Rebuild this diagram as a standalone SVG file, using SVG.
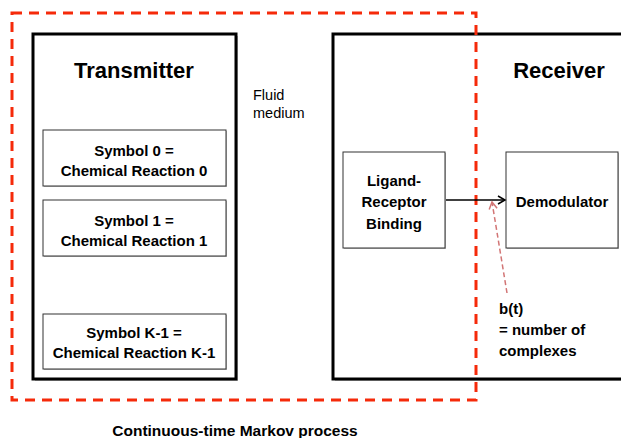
<svg xmlns="http://www.w3.org/2000/svg" width="621" height="438" viewBox="0 0 621 438">
<defs>
<style>
.t{font-family:"Liberation Sans",Arial,sans-serif;fill:#000}
.b{font-weight:bold}
.big{font-size:22px;font-weight:bold}
.lbl{font-size:15px;font-weight:bold}
.outer{fill:#fff;stroke:#000;stroke-width:3}
.inner{fill:#fff;stroke:#333;stroke-width:1}
.shadow{fill:#bbb}
</style>
<marker id="ah" markerWidth="10" markerHeight="10" refX="8" refY="5" orient="auto" markerUnits="userSpaceOnUse">
<path d="M1,1 L8,5 L1,9" fill="none" stroke="#000" stroke-width="1.5"/>
</marker>
<marker id="ahr" markerWidth="10" markerHeight="10" refX="8" refY="5" orient="auto" markerUnits="userSpaceOnUse">
<path d="M1,1 L8,5 L1,9" fill="none" stroke="#d27575" stroke-width="1.5"/>
</marker>
</defs>
<rect width="621" height="438" fill="#fff"/>

<g id="transmitter">
<rect x="35" y="36" width="203" height="345" class="shadow"/>
<rect x="33" y="34" width="203" height="345" class="outer"/>
<text x="134" y="78" text-anchor="middle" class="t big">Transmitter</text>
</g>
<g id="symbol0">
<rect x="44" y="131" width="183" height="56" class="shadow"/>
<rect x="43" y="130" width="183" height="56" class="inner"/>
<text x="134" y="156" text-anchor="middle" class="t lbl">Symbol 0 =</text>
<text x="134" y="176" text-anchor="middle" class="t lbl">Chemical Reaction 0</text>
</g>
<g id="symbol1">
<rect x="44" y="201" width="183" height="56" class="shadow"/>
<rect x="43" y="200" width="183" height="56" class="inner"/>
<text x="134" y="226" text-anchor="middle" class="t lbl">Symbol 1 =</text>
<text x="134" y="246" text-anchor="middle" class="t lbl">Chemical Reaction 1</text>
</g>
<g id="symbolK1">
<rect x="44" y="315" width="183" height="55" class="shadow"/>
<rect x="43" y="314" width="183" height="55" class="inner"/>
<text x="134" y="338" text-anchor="middle" class="t lbl">Symbol K-1 =</text>
<text x="134" y="358" text-anchor="middle" class="t lbl">Chemical Reaction K-1</text>
</g>

<g id="fluid">
<text x="253" y="100" class="t" font-size="14.5">Fluid</text>
<text x="253" y="118" class="t" font-size="14.5">medium</text>
</g>

<g id="receiver">
<rect x="335" y="36" width="300" height="345" class="shadow"/>
<rect x="333" y="34" width="300" height="345" class="outer"/>
<text x="559" y="78" text-anchor="middle" class="t big">Receiver</text>
</g>
<g id="ligand">
<rect x="344" y="153" width="102" height="96" class="shadow"/>
<rect x="343" y="152" width="102" height="96" class="inner"/>
<text x="394" y="186" text-anchor="middle" class="t lbl">Ligand-</text>
<text x="394" y="207" text-anchor="middle" class="t lbl">Receptor</text>
<text x="394" y="229" text-anchor="middle" class="t lbl">Binding</text>
</g>
<g id="demodulator">
<rect x="507" y="153" width="112" height="96" class="shadow"/>
<rect x="506" y="152" width="112" height="96" class="inner"/>
<text x="562" y="207" text-anchor="middle" class="t lbl">Demodulator</text>
</g>

<g id="markov">
<rect x="12" y="13" width="464" height="387" fill="none" stroke="#f52a0a" stroke-width="3" stroke-dasharray="10,7"/>
<text x="235" y="436" text-anchor="middle" class="t" font-size="15.5" font-weight="bold">Continuous-time Markov process</text>
</g>

<g id="connectors">
<line x1="446" y1="200" x2="505" y2="200" stroke="#000" stroke-width="1.5" marker-end="url(#ah)"/>
<line x1="507" y1="293" x2="492" y2="202" stroke="#d27575" stroke-width="1.5" stroke-dasharray="5,3" marker-end="url(#ahr)"/>
</g>

<g id="bt">
<text x="499" y="314" class="t lbl">b(t)</text>
<text x="499" y="335" class="t lbl">= number of</text>
<text x="499" y="356" class="t lbl">complexes</text>
</g>
</svg>
